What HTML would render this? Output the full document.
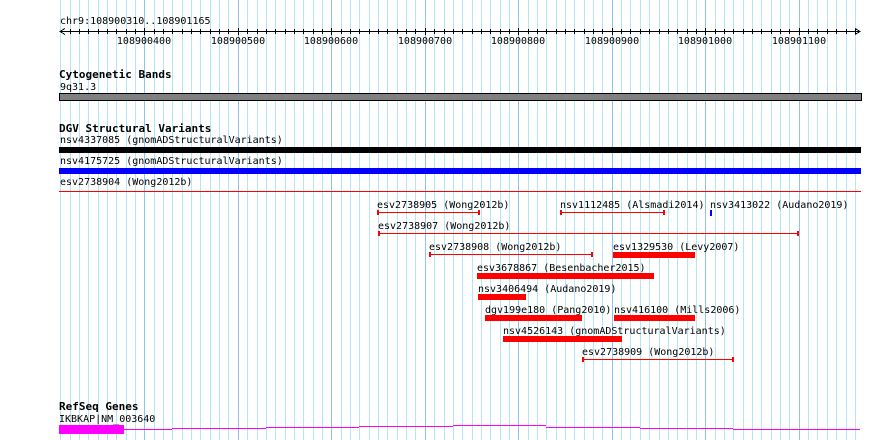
<!DOCTYPE html>
<html><head><meta charset="utf-8"><style>
html,body{margin:0;padding:0;background:#fff;width:890px;height:440px;overflow:hidden}
svg text{font-family:"DejaVu Sans Mono","Liberation Mono",monospace;font-size:10px;fill:#000}
svg text.h{font-weight:bold;font-size:11px}
svg line,svg rect,svg path{shape-rendering:crispEdges}
</style></head><body>
<svg id="c" width="890" height="440" xmlns="http://www.w3.org/2000/svg">
<g id="grid"></g>
<g id="ruler"></g>
<text x="60" y="24">chr9:108900310..108901165</text>
<text class="h" x="59" y="78">Cytogenetic Bands</text>
<text x="60" y="90">9q31.3</text>
<rect x="59.5" y="93.5" width="802" height="7" fill="#808080" stroke="#000" stroke-width="1"/>
<text class="h" x="59" y="132">DGV Structural Variants</text>
<g id="sv"></g>
<text class="h" x="59" y="410">RefSeq Genes</text>
<text x="59" y="422">IKBKAP|NM_003640</text>
<g id="gene"></g>
</svg>
<script>
const startBp=108900310, endBp=108901165;
const tickLabels=[108900400,108900500,108900600,108900700,108900800,108900900,108901000,108901100];
// full-width variants
const fullNames=["nsv4337085 (gnomADStructuralVariants)","nsv4175725 (gnomADStructuralVariants)","esv2738904 (Wong2012b)"];
const fullColors=["#000","#0000ff","#ff0000"];
const fullStyles=["thick","thick","line"];
// stacked variants
const svNames=["esv2738905 (Wong2012b)","nsv1112485 (Alsmadi2014)","nsv3413022 (Audano2019)","esv2738907 (Wong2012b)","esv2738908 (Wong2012b)","esv1329530 (Levy2007)","esv3678867 (Besenbacher2015)","nsv3406494 (Audano2019)","dgv199e180 (Pang2010)","nsv416100 (Mills2006)","nsv4526143 (gnomADStructuralVariants)","esv2738909 (Wong2012b)"];
const svStart=[108900649,108900845,108901005,108900650,108900704,108900901,108900756,108900757,108900764,108900902,108900784,108900868];
const svEnd=[108900759,108900957,108901007,108901100,108900880,108900989,108900945,108900808,108900868,108900989,108900911,108901031];
const svRow=[0,0,0,1,2,2,3,4,5,5,6,7];
const svStyle=["line","line","blue","line","line","thick","thick","thick","thick","thick","thick","line"];
const geneStart=108900310, geneThickEnd=108900378, geneEnd=108901165;
const geneSegBp=[108900378,108900430,108900530,108900630,108900730,108900830,108900930,108901030,108901130,108901165];
const geneSegY=[429,428,427,426,425,427,428,429,429];

const X0=60.2, PX=0.9349;
const x=bp=>Math.round(X0+(bp-startBp)*PX);
const NS="http://www.w3.org/2000/svg";
function mk(tag,parent,attrs){const e=document.createElementNS(NS,tag);for(const k in attrs)e.setAttribute(k,attrs[k]);parent.appendChild(e);return e;}
const grid=document.getElementById('grid');
for(let bp=startBp;bp<=endBp;bp+=10){
  const l=mk('rect',grid,{x:x(bp),y:0,width:1,height:440,fill:bp%100===0?'#8cc4f0':'#b4e8f0'});
  
  
}
const ruler=document.getElementById('ruler');
const rl=mk('rect',ruler,{x:x(startBp),y:31,width:x(endBp)-x(startBp),height:1,fill:'#000'});


mk('path',ruler,{d:`M${x(startBp)+5},28.5 L${x(startBp)},31.5 L${x(startBp)+5},34.5`,fill:'none',stroke:'#000'});
mk('path',ruler,{d:`M${x(endBp)-5},28.5 L${x(endBp)},31.5 L${x(endBp)-5},34.5`,fill:'none',stroke:'#000'});
for(let bp=startBp+10;bp<endBp;bp+=10){
  const major=bp%100===0;
  const t=mk('rect',ruler,{x:x(bp),y:major?28:29,width:1,height:major?7:5,fill:'#000'});
  
  
}
tickLabels.forEach(v=>{
  const t=mk('text',ruler,{x:x(v),y:44,'text-anchor':'middle'});t.textContent=v;
  
  
});
const sv=document.getElementById('sv');
const fullBase=[148,169,190];
fullNames.forEach((n,i)=>{
  const t=mk('text',sv,{x:60,y:fullBase[i]-5});t.textContent=n;
  
  
  let r;
  if(fullStyles[i]==='thick') r=mk('rect',sv,{x:x(startBp)-1,y:fullBase[i]-1,width:x(endBp)-x(startBp)+2,height:6,fill:fullColors[i]});
  else r=mk('rect',sv,{x:x(startBp)-1,y:fullBase[i]+1,width:x(endBp)-x(startBp)+2,height:1,fill:fullColors[i]});
  
  
});
svNames.forEach((n,i)=>{
  const yb=212+svRow[i]*21, x1=x(svStart[i]), x2=x(svEnd[i]);
  const t=mk('text',sv,{x:x1,y:yb-4});t.textContent=n;
  
  
  const g=mk('g',sv,{});
  
  
  if(svStyle[i]==='line'){
    mk('rect',g,{x:x1,y:yb,width:x2-x1,height:1,fill:'#f00'});
    mk('rect',g,{x:x1,y:yb-2,width:2,height:5,fill:'#f00'});
    mk('rect',g,{x:x2-2,y:yb-2,width:2,height:5,fill:'#f00'});
  } else if(svStyle[i]==='blue'){
    mk('rect',g,{x:x1,y:yb-2,width:Math.max(2,x2-x1),height:6,fill:'#00f'});
  } else {
    mk('rect',g,{x:x1,y:yb-2,width:x2-x1,height:6,fill:'#f00'});
  }
});
const gene=document.getElementById('gene');
const gb=mk('rect',gene,{x:x(geneStart)-1,y:425,width:x(geneThickEnd)-x(geneStart)+1,height:9,fill:'#ff00ff'});


for(let i=0;i<geneSegY.length;i++){
  const l=mk('rect',gene,{x:x(geneSegBp[i]),y:geneSegY[i],width:x(geneSegBp[i+1])-x(geneSegBp[i]),height:1,fill:'#ff00ff'});
  
  
}
</script>
</body></html>
